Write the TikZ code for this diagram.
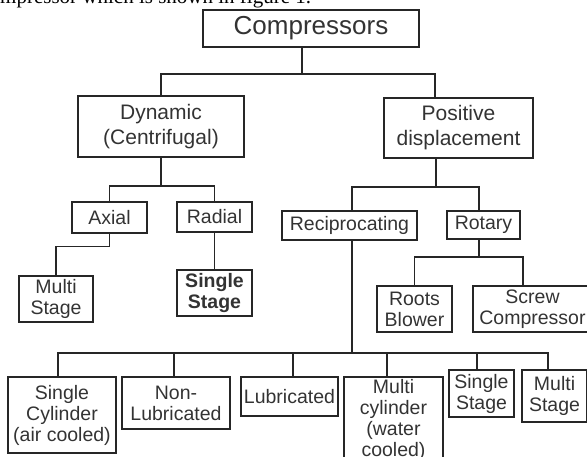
\documentclass[tikz,border=0pt]{standalone}
\usepackage{fontspec}
\setmainfont{Liberation Sans}
\newfontfamily\pageserif{Liberation Serif}
\usetikzlibrary{positioning}
\tikzstyle{box} = [draw=black!85, rectangle, line width=1.2pt, inner sep=2pt, align=center, text=black!80, font=\fontsize{19.5}{21}\selectfont]
\tikzstyle{topbox} = [box, font=\fontsize{21}{25}\selectfont]
\tikzstyle{titlebox} = [box, font=\fontsize{26}{28}\selectfont]
\tikzstyle{link} = [draw=black!85, line width=1.2pt]
\begin{document}
\begin{tikzpicture}[x=1pt, y=-1pt]
    \path[use as bounding box, clip] (0,0) rectangle (587,457);
    \node (caption) [anchor=base west, inner sep=0pt, font=\pageserif\fontsize{21}{23}\selectfont] at (0,3.5) {mpressor which is shown in figure 1.};

    \node (comp) [titlebox, minimum width=216pt, minimum height=37pt] at (311,28.5) {Compressors};
    \node (dyn) [topbox, minimum width=166pt, minimum height=61pt] at (161,126.5) {Dynamic\\(Centrifugal)};
    \node (pos) [topbox, minimum width=149pt, minimum height=60pt] at (458.5,128) {Positive\\displacement};
    \node (axial) [box, minimum width=75pt, minimum height=31pt] at (109.5,217.5) {Axial};
    \node (radial) [box, minimum width=75pt, minimum height=30pt] at (214.5,217) {Radial};
    \node (mstage) [box, minimum width=74pt, minimum height=46pt] at (56,299) {Multi\\Stage};
    \node (sstage) [box, minimum width=75pt, minimum height=46pt, font=\bfseries\fontsize{19.5}{21}\selectfont] at (214.5,293) {Single\\Stage};
    \node (recip) [box, minimum width=135pt, minimum height=29pt] at (349.5,225.5) {Reciprocating};
    \node (rotary) [box, minimum width=73pt, minimum height=28pt] at (483.5,225) {Rotary};
    \node (roots) [box, minimum width=75pt, minimum height=46pt] at (414.5,309) {Roots\\Blower};
    \node (screw) [box, minimum width=119pt, minimum height=46pt] at (532.5,309) {Screw\\Compressor};
    \node (scyl) [box, minimum width=108pt, minimum height=76pt] at (62,415) {Single\\Cylinder\\(air cooled)};
    \node (nonlub) [box, minimum width=108pt, minimum height=52pt] at (176,403) {Non-\\Lubricated};
    \node (lub) [box, minimum width=97pt, minimum height=39pt] at (289.5,396.5) {Lubricated};
    \node (mcyl) [box, minimum width=99pt, minimum height=86pt] at (393.5,420) {Multi\\cylinder\\(water\\cooled)};
    \node (sstage2) [box, minimum width=65pt, minimum height=47pt] at (481.5,393.5) {Single\\Stage};
    \node (mstage2) [box, minimum width=65pt, minimum height=52pt] at (554.5,396) {Multi\\Stage};

    % main split
    \coordinate (j0) at (302,74);
    \coordinate (j0r) at (435,74);
    \draw [link] (comp.south -| j0) -- (j0);
    \draw [link] (dyn.north) |- (j0) -| (pos.north -| j0r);

    % dynamic
    \coordinate (j1) at (161,186);
    \draw [link] (dyn.south) -- (j1);
    \draw [link] (axial.north) |- (j1) -| (radial.north);
    \draw [link] (axial.south) -- ++(0,13) -| (mstage.north);
    \draw [link] (radial.south) -- (sstage.north);

    % positive displacement
    \coordinate (j2) at (436,187);
    \coordinate (j2l) at (352,187);
    \coordinate (j2r) at (479,187);
    \draw [link] (pos.south -| j2) -- (j2);
    \draw [link] (recip.north -| j2l) |- (j2) -| (rotary.north -| j2r);

    % rotary
    \coordinate (j4) at (479,257);
    \coordinate (j4r) at (523,257);
    \draw [link] (rotary.south -| j4) -- (j4);
    \draw [link] (roots.north) |- (j4) -| (screw.north -| j4r);

    % reciprocating
    \coordinate (j3) at (352,353);
    \draw [link] (recip.south -| j3) -- (j3);
    \foreach \n/\x in {scyl/58, nonlub/174, lub/293, mcyl/387, sstage2/477, mstage2/548} {
        \coordinate (d) at (\x,0);
        \draw [link] (\n.north -| d) |- (j3);
    }
\end{tikzpicture}
\end{document}
